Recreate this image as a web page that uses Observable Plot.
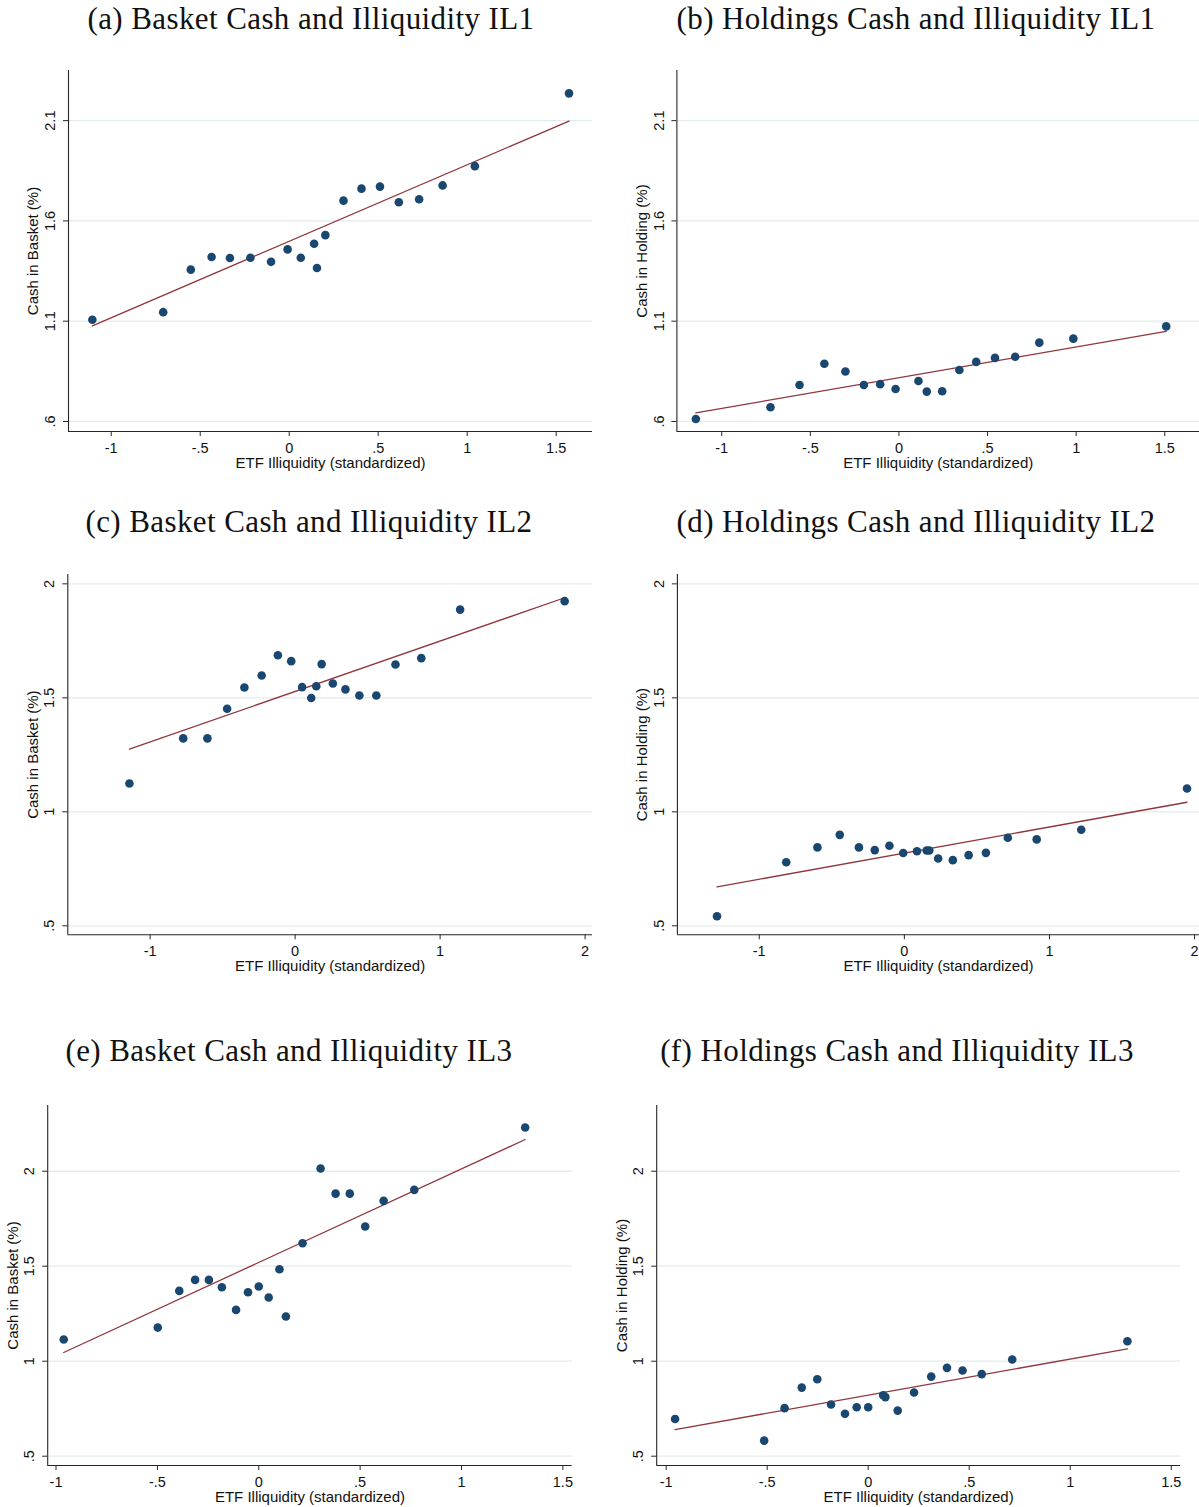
<!DOCTYPE html>
<html><head><meta charset="utf-8">
<script src="https://cdn.jsdelivr.net/npm/d3@7"></script>
<script src="https://cdn.jsdelivr.net/npm/@observablehq/plot@0.6"></script>
<style>
body{margin:0;background:#fff;}
#root{position:relative;width:1199px;height:1507px;overflow:hidden;background:#fff;}
.title{position:absolute;width:600px;text-align:center;font-family:"Liberation Serif",serif;font-size:31px;line-height:31px;letter-spacing:0.4px;color:#111;white-space:nowrap;}
.panel{position:absolute;}
</style></head><body><div id="root"></div>
<script>
// ---- data ----
const aX = [-1.106,-0.708,-0.553,-0.436,-0.333,-0.218,-0.102,-0.009,0.065,0.140,0.156,0.203,0.305,0.406,0.510,0.616,0.730,0.862,1.043,1.572];
const aY = [1.107,1.145,1.357,1.420,1.415,1.416,1.396,1.458,1.416,1.486,1.365,1.529,1.701,1.761,1.771,1.693,1.708,1.777,1.873,2.236];
const aFitX = [-1.106,1.572], aFitY = [1.077,2.098];

const bX = [-1.146,-0.725,-0.561,-0.421,-0.302,-0.198,-0.106,-0.019,0.110,0.157,0.244,0.341,0.436,0.542,0.656,0.792,0.984,1.508];
const bY = [0.612,0.671,0.782,0.888,0.849,0.782,0.786,0.762,0.802,0.749,0.751,0.857,0.897,0.917,0.923,0.993,1.013,1.074];
const bFitX = [-1.146,1.508], bFitY = [0.643,1.049];

const cX = [-1.143,-0.772,-0.605,-0.469,-0.350,-0.231,-0.119,-0.027,0.048,0.111,0.146,0.183,0.260,0.347,0.443,0.560,0.692,0.870,1.138,1.859];
const cY = [1.124,1.322,1.322,1.452,1.545,1.598,1.687,1.661,1.547,1.499,1.551,1.648,1.563,1.537,1.510,1.510,1.646,1.674,1.887,1.924];
const cFitX = [-1.143,1.859], cFitY = [1.275,1.939];

const dX = [-1.291,-0.814,-0.599,-0.445,-0.313,-0.204,-0.103,-0.008,0.087,0.154,0.172,0.233,0.334,0.443,0.562,0.713,0.912,1.219,1.948];
const dY = [0.542,0.779,0.844,0.899,0.844,0.832,0.851,0.819,0.827,0.830,0.830,0.795,0.788,0.810,0.820,0.886,0.879,0.921,1.102];
const dFitX = [-1.291,1.948], dFitY = [0.671,1.042];

const eX = [-0.962,-0.498,-0.392,-0.314,-0.246,-0.182,-0.112,-0.053,0.000,0.049,0.102,0.134,0.216,0.305,0.379,0.449,0.525,0.616,0.767,1.314];
const eY = [1.114,1.177,1.370,1.428,1.428,1.389,1.270,1.363,1.393,1.335,1.484,1.235,1.621,2.014,1.882,1.882,1.709,1.844,1.902,2.230];
const eFitX = [-0.962,1.314], eFitY = [1.046,2.167];

const fX = [-0.956,-0.515,-0.414,-0.329,-0.252,-0.184,-0.115,-0.057,0.000,0.074,0.085,0.146,0.227,0.312,0.390,0.467,0.562,0.713,1.283];
const fY = [0.696,0.582,0.753,0.861,0.905,0.772,0.723,0.758,0.758,0.821,0.811,0.740,0.835,0.919,0.965,0.951,0.932,1.009,1.105];
const fFitX = [-0.956,1.283], fFitY = [0.640,1.065];

// tick values and labels
const xTicksHalf = [-1,-0.5,0,0.5,1,1.5];
const xLabelsHalf = ["-1","-.5","0",".5","1","1.5"];
const xTicksOne = [-1,0,1,2];
const xLabelsOne = ["-1","0","1","2"];
const yTicksIL1 = [0.6,1.1,1.6,2.1];
const yLabelsIL1 = [".6","1.1","1.6","2.1"];
const yTicksHalf = [0.5,1,1.5,2];
const yLabelsHalf = [".5","1","1.5","2"];

const titles = ["(a) Basket Cash and Illiquidity IL1","(b) Holdings Cash and Illiquidity IL1",
  "(c) Basket Cash and Illiquidity IL2","(d) Holdings Cash and Illiquidity IL2",
  "(e) Basket Cash and Illiquidity IL3","(f) Holdings Cash and Illiquidity IL3"];
const yTitles = ["Cash in Basket (%)","Cash in Holding (%)"];
const xTitle = "ETF Illiquidity (standardized)";

// ---- layout ----
const panels = [
  {title:titles[0], cx:311, base:29, left:0, top:40, w:600, h:440, m:[30,8,49,68], xd:[-1.240,1.704], yd:[0.55,2.35], X:aX, Y:aY, FX:aFitX, FY:aFitY, xt:xTicksHalf, xl:xLabelsHalf, yt:yTicksIL1, yl:yLabelsIL1, ylab:yTitles[0]},
  {title:titles[1], cx:916, base:29, left:600, top:40, w:599, h:440, m:[30,0,49,76.4], xd:[-1.253,1.696], yd:[0.55,2.35], X:bX, Y:bY, FX:bFitX, FY:bFitY, xt:xTicksHalf, xl:xLabelsHalf, yt:yTicksIL1, yl:yLabelsIL1, ylab:yTitles[1]},
  {title:titles[2], cx:309, base:532, left:0, top:545, w:600, h:440, m:[29,8,50.7,67.3], xd:[-1.568,2.051], yd:[0.4605,2.041], X:cX, Y:cY, FX:cFitX, FY:cFitY, xt:xTicksOne, xl:xLabelsOne, yt:yTicksHalf, yl:yLabelsHalf, ylab:yTitles[0]},
  {title:titles[3], cx:916, base:532, left:600, top:545, w:599, h:440, m:[29,0,50.7,76.9], xd:[-1.564,2.034], yd:[0.4605,2.041], X:dX, Y:dY, FX:dFitX, FY:dFitY, xt:xTicksOne, xl:xLabelsOne, yt:yTicksHalf, yl:yLabelsHalf, ylab:yTitles[1]},
  {title:titles[4], cx:289, base:1061, left:0, top:1075, w:600, h:432, m:[30,28.3,42,47.2], xd:[-1.041,1.546], yd:[0.451,2.346], X:eX, Y:eY, FX:eFitX, FY:eFitY, xt:xTicksHalf, xl:xLabelsHalf, yt:yTicksHalf, yl:yLabelsHalf, ylab:yTitles[0]},
  {title:titles[5], cx:897, base:1061, left:600, top:1075, w:599, h:432, m:[30,19,42,56.2], xd:[-1.047,1.546], yd:[0.451,2.346], X:fX, Y:fY, FX:fFitX, FY:fFitY, xt:xTicksHalf, xl:xLabelsHalf, yt:yTicksHalf, yl:yLabelsHalf, ylab:yTitles[1]}
];

const root = document.getElementById("root");
const AXIS = "#262626", GRID = "#e3ebee", NAVY = "#1a476f", MAROON = "#90353b";

for (const p of panels) {
  const t = document.createElement("div");
  t.className = "title";
  t.textContent = p.title;
  t.style.left = (p.cx - 300) + "px";
  t.style.top = (p.base - 26) + "px";
  root.appendChild(t);

  const pts = p.X.map((x, i) => ({x, y: p.Y[i]}));
  const fit = p.FX.map((x, i) => ({x, y: p.FY[i]}));
  const yTickData = p.yt.map((v, i) => ({v, s: p.yl[i]}));

  const chart = Plot.plot({
    width: p.w, height: p.h,
    marginTop: p.m[0], marginRight: p.m[1], marginBottom: p.m[2], marginLeft: p.m[3],
    x: {domain: p.xd, axis: null},
    y: {domain: p.yd, axis: null},
    style: {fontFamily: "'Liberation Sans', Arial, sans-serif", fontSize: "14.5px", color: "#111", background: "white", overflow: "visible"},
    marks: [
      Plot.ruleY(p.yt, {stroke: GRID, strokeWidth: 1.3}),
      Plot.axisX({ticks: p.xt, tickSize: 5, tickPadding: 6, tickFormat: (d) => p.xl[p.xt.indexOf(d)], label: null, stroke: AXIS}),
      Plot.axisY({ticks: p.yt, tickSize: 5, tickFormat: () => "", label: null, stroke: AXIS}),
      Plot.text(yTickData, {y: "v", text: "s", frameAnchor: "left", dx: -18, rotate: -90, textAnchor: "middle", lineAnchor: "middle", fill: "#111"}),
      Plot.text([p.ylab], {frameAnchor: "left", dx: -35, rotate: -90, textAnchor: "middle", lineAnchor: "middle", fontSize: 15, fill: "#111"}),
      Plot.text([xTitle], {frameAnchor: "bottom", dy: 26, lineAnchor: "top", textAnchor: "middle", fontSize: 15, fill: "#111"}),
      Plot.ruleX([p.xd[0]], {stroke: AXIS, strokeWidth: 1.1}),
      Plot.ruleY([p.yd[0]], {stroke: AXIS, strokeWidth: 1.1}),
      Plot.line(fit, {x: "x", y: "y", stroke: MAROON, strokeWidth: 1.3}),
      Plot.dot(pts, {x: "x", y: "y", r: 4.3, fill: NAVY, stroke: NAVY, strokeWidth: 0})
    ]
  });
  chart.classList.add("panel");
  chart.style.left = p.left + "px";
  chart.style.top = p.top + "px";
  root.appendChild(chart);
}
</script></body></html>
